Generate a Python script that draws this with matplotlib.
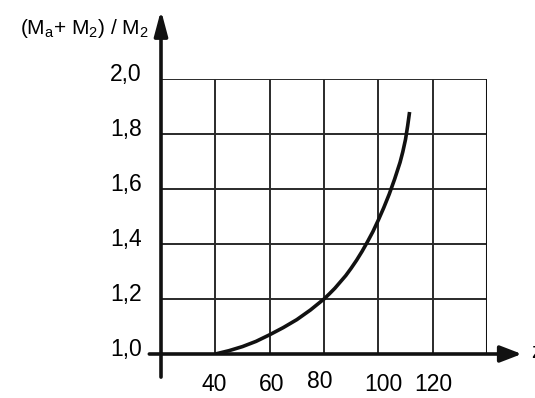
import matplotlib
matplotlib.use("Agg")
from matplotlib import pyplot as plt
from matplotlib.transforms import ScaledTranslation

plt.rcParams['font.family'] = ['Liberation Sans', 'DejaVu Sans']
plt.rcParams['mathtext.fontset'] = 'custom'
plt.rcParams['mathtext.rm'] = 'Liberation Sans'

# curve
z = [40, 45, 50, 55, 60, 65, 70, 75, 80, 82, 84, 86, 88, 90, 92, 94, 96, 98, 100,
     102, 104, 106, 108, 109, 110, 110.8, 111.5]
ratio = [1.0, 1.012, 1.027, 1.046, 1.07, 1.096, 1.125, 1.16, 1.2, 1.219, 1.239, 1.262, 1.285,
         1.312, 1.341, 1.373, 1.408, 1.445, 1.487, 1.532, 1.581, 1.636, 1.697, 1.735, 1.78,
         1.83, 1.88]

xticks = [40, 60, 80, 100, 120, 140]
xlabels = ['40', '60', '80', '100', '120', '']
yticks = [1.0, 1.2, 1.4, 1.6, 1.8, 2.0]
ylabels = ['1,0', '1,2', '1,4', '1,6', '1,8', '2,0']

fig = plt.figure(figsize=(5.35, 3.98), dpi=100)
ax = fig.add_axes([161/535, 44/398, 326/535, 275/398])
ax.set_xlim(20, 140)
ax.set_ylim(1.0, 2.0)

for s in ax.spines.values():
    s.set_visible(False)

ax.set_xticks(xticks)
ax.set_xticklabels(xlabels)
ax.set_yticks(yticks)
ax.set_yticklabels(ylabels)
ax.tick_params(axis='x', length=0, pad=14, labelsize=16.5)
ax.tick_params(axis='y', length=0, pad=14, labelsize=16.5)
ax.grid(True, color='#2a2a2a', lw=1.4)
ax.set_axisbelow(True)

# small nudges like in the original drawing
xoff = [-1, 2, -4, 5, 1, 0]
xoffy = [0, 0, 3, 0, 0, 0]
for lab, dx, dy in zip(ax.get_xticklabels(), xoff, xoffy):
    lab.set_transform(lab.get_transform() + ScaledTranslation(dx/100, dy/100, fig.dpi_scale_trans))
for lab in ax.get_yticklabels():
    lab.set_transform(lab.get_transform() + ScaledTranslation(0, 7/100, fig.dpi_scale_trans))

# right border a bit stronger
ax.axvline(140, color='#111', lw=2.2)

ax.plot(z, ratio, color='#111', lw=2.6, solid_capstyle='butt')

# axes with arrows
ax.annotate('', xy=(152.8, 1.0), xytext=(15.7, 1.0), annotation_clip=False,
            arrowprops=dict(arrowstyle='-|>,head_length=0.65,head_width=0.25', lw=2.6,
                            color='#111', mutation_scale=20, shrinkA=0, shrinkB=0))
ax.annotate('', xy=(20, 2.25), xytext=(20, 0.916), annotation_clip=False,
            arrowprops=dict(arrowstyle='-|>,head_length=0.75,head_width=0.2', lw=2.6,
                            color='#111', mutation_scale=20, shrinkA=0, shrinkB=0))

fig.text(20/535, 1 - 28/398, r'(M$_\mathregular{a}$+ M$_\mathregular{2}$) / M$_\mathregular{2}$',
         fontsize=15, ha='left', va='center')
fig.text(531/535, 1 - 352/398, 'z', fontsize=16, ha='left', va='center')

fig.savefig('out.png', dpi=100)
